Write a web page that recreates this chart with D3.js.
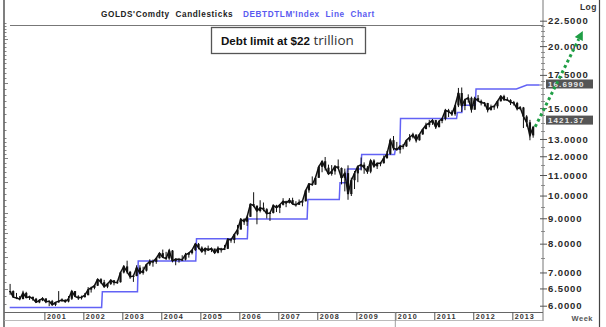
<!DOCTYPE html>
<html><head><meta charset="utf-8">
<script src="https://cdn.jsdelivr.net/npm/d3@7"></script>
<style>html,body{margin:0;padding:0;background:#fff;} svg{display:block;font-family:"Liberation Sans",Arial,sans-serif;}</style>
</head><body><svg id="c" width="606" height="327"></svg>
<script>
// ---------------- data ----------------
const titleLeft = "GOLDS'Comdty  Candlesticks";
const titleRight = "DEBTDTLM'Index  Line  Chart";
const noteBold = "Debt limit at $22";
const noteLight = " trillion";
const yearTicks = [2001,2002,2003,2004,2005,2006,2007,2008,2009,2010,2011,2012,2013];
const rightTicks = [6,6.5,7,8,9,10,11,12,13,15,17.5,20,22.5];
const rightDomain = [6, 22.5];
const goldAxisDomain = [256, 3560];   // hidden left axis (gold, log)
const goldStart = "2000-02";
const goldHigh = [
 313,295,288,280,294,291,281,278,275,272,277,
 273,268,270,265,293,274,272,280,294,293,282,281,
 288,304,305,310,328,330,325,316,327,323,324,349,
 372,388,353,341,372,372,367,376,393,392,400,417,
 430,421,430,428,396,398,408,417,420,430,455,457,
 443,436,446,438,433,443,437,449,477,477,497,540,
 575,574,588,654,730,645,678,664,630,608,652,650,
 655,691,675,692,694,672,683,679,747,794,845,840,
 933,976,1011,942,938,936,988,918,908,936,835,888,
 934,1006,962,930,981,990,960,965,1025,1070,1195,1227,
 1162,1128,1140,1180,1249,1265,1244,1250,1310,1388,1425,1432,
 1424,1411,1447,1577,1577,1557,1632,1913,1921,1730,1803,1765,
 1764,1791,1718,1680,1667,1640,1628,1693,1788,1796,1755,1724,
 1697,1682,1616,1605,1488,1425,1348];
const goldLow = [
 283,276,272,269,272,275,270,268,263,262,267,
 262,255,257,255,263,265,263,264,270,278,270,271,
 276,282,289,298,307,314,302,301,310,309,313,317,
 345,344,328,319,336,342,341,351,370,367,377,396,
 399,391,391,382,372,381,387,389,399,411,424,431,
 418,410,425,420,414,415,418,428,432,458,456,490,
 518,540,535,582,636,543,606,612,573,560,600,608,
 602,646,636,658,652,639,650,641,670,727,775,781,
 834,878,892,866,851,859,909,785,736,681,705,752,
 801,893,866,865,870,916,905,928,951,994,1031,1075,
 1075,1044,1086,1110,1165,1200,1155,1176,1240,1310,1330,1360,
 1310,1327,1381,1418,1462,1478,1480,1603,1532,1558,1671,1523,
 1564,1689,1628,1612,1526,1551,1563,1583,1687,1696,1705,1635,
 1626,1554,1563,1321,1338,1180,1208];
const goldClose = [
 293,277,275,272,288,276,278,273,264,269,274,
 265,267,258,264,267,270,266,273,293,279,275,277,
 282,297,302,308,327,318,305,313,324,317,318,348,
 368,350,334,337,364,346,354,375,385,384,397,416,
 400,396,426,387,394,392,392,410,416,428,453,438,
 422,435,428,434,417,435,429,433,473,470,495,517,
 569,556,582,654,645,614,633,624,599,603,646,632,
 650,672,661,679,655,650,664,672,743,789,783,834,
 923,972,916,864,885,928,913,833,871,718,816,869,
 927,942,916,883,979,927,954,955,1001,1040,1181,1096,
 1081,1118,1115,1180,1213,1244,1180,1246,1307,1357,1385,1421,
 1333,1410,1439,1556,1536,1502,1628,1825,1620,1717,1746,1565,
 1740,1697,1668,1664,1561,1604,1615,1692,1774,1719,1712,1675,
 1664,1579,1597,1470,1393,1234,1335];
const goldLastLabel = "1421.37";
const goldLastValue = 1421.37;
const debtDates = ["2000-02-11","2002-06-21","2002-06-28","2003-05-23","2003-05-30","2004-11-19","2004-11-26",
 "2006-03-17","2006-03-24","2007-09-28","2007-10-05","2008-07-25","2008-08-01","2008-10-03","2008-10-10",
 "2009-02-13","2009-02-20","2009-12-25","2010-01-01","2010-02-12","2010-02-19","2011-07-29","2011-08-05",
 "2011-09-16","2011-09-23","2012-01-20","2012-01-27","2013-02-08","2013-05-17","2013-09-13"];
const debtValues = [5.95,5.95,6.4,6.4,7.384,7.384,8.184,8.184,8.965,8.965,9.815,9.815,10.615,10.615,11.315,
 11.315,12.104,12.104,12.394,12.394,14.294,14.294,14.694,14.694,15.194,15.194,16.394,16.394,16.699,16.699];
const debtLastLabel = "16.6990";
const arrowTarget = {date: "2014-10-23", value: 21.45};

// ---------------- chart ----------------
const svg = d3.select("#c");
const parse = d3.timeParse("%Y-%m-%d");
const x = d3.scaleTime().domain([new Date(2000,0,1), new Date(2014,0,1)]).range([5.3, 551.3]);
const y = d3.scaleLog().domain(rightDomain).range([305.7, 20.7]);
const yg = d3.scaleLog().domain(goldAxisDomain).range([305.7, 20.7]);
const axisX = 543, plotL = 4, axisY = 312;

// frame
svg.append("line").attr("x1",plotL).attr("x2",plotL).attr("y1",0).attr("y2",327).attr("stroke","#555").attr("stroke-width",1.5);
svg.append("line").attr("x1",599.5).attr("x2",599.5).attr("y1",0).attr("y2",327).attr("stroke","#444").attr("stroke-width",1.2);
svg.append("line").attr("x1",axisX).attr("x2",axisX).attr("y1",0).attr("y2",321).attr("stroke","#777").attr("stroke-width",1);
svg.append("line").attr("x1",10).attr("x2",axisX).attr("y1",25.5).attr("y2",25.5).attr("stroke","#777").attr("stroke-width",1);

// titles
svg.append("text").attr("x",101).attr("y",17).attr("font-size",8.2).attr("font-weight","bold").attr("letter-spacing",0.6)
  .attr("fill","#222").attr("xml:space","preserve").text(titleLeft);
svg.append("text").attr("x",243).attr("y",17).attr("font-size",8.2).attr("font-weight","bold").attr("letter-spacing",0.6)
  .attr("fill","#5a5af0").attr("xml:space","preserve").text(titleRight);
svg.append("text").attr("x",597).attr("y",10).attr("text-anchor","end").attr("font-size",8.5).attr("font-weight","bold")
  .attr("letter-spacing",0.5).attr("fill","#333").text("Log");
svg.append("text").attr("x",593).attr("y",321).attr("text-anchor","end").attr("font-size",7.5).attr("font-weight","bold")
  .attr("letter-spacing",0.5).attr("fill","#555").text("Week");

// left (gold) ticks, unlabeled
const leftTicks = d3.range(260,600,20).concat(d3.range(600,1200,40)).concat(d3.range(1200,3600,100));
svg.append("g").selectAll("line").data(leftTicks).join("line")
  .attr("x1",plotL).attr("x2",d=> (d%100===0 && d<=1000) || d%1000===0 ? plotL+4 : plotL+2.5)
  .attr("y1",d=>Math.round(yg(d))+0.5).attr("y2",d=>Math.round(yg(d))+0.5).attr("stroke","#666").attr("stroke-width",0.8);

// right axis
const minor = d3.range(6,22.6,0.5).filter(v=>!rightTicks.includes(v));
svg.append("g").selectAll("line").data(minor).join("line")
  .attr("x1",axisX-2).attr("x2",axisX+2).attr("y1",d=>Math.round(y(d))+0.5).attr("y2",d=>Math.round(y(d))+0.5)
  .attr("stroke","#777").attr("stroke-width",0.8);
const rAxis = svg.append("g").attr("transform",`translate(${axisX},0)`)
  .call(d3.axisRight(y).tickValues(rightTicks).tickSize(4).tickFormat(d3.format(".4f")));
rAxis.select(".domain").remove();
rAxis.selectAll(".tick line").attr("x1",-3).attr("stroke","#555");
rAxis.selectAll(".tick text").attr("x",5).attr("font-size",9.5).attr("font-weight","bold").attr("letter-spacing",0.9)
  .attr("fill","#2a2a2a").attr("font-family","'Liberation Sans',Arial,sans-serif");

// x axis
svg.append("line").attr("x1",plotL).attr("x2",axisX).attr("y1",axisY+0.5).attr("y2",axisY+0.5).attr("stroke","#666").attr("stroke-width",1);
svg.append("line").attr("x1",plotL).attr("x2",axisX).attr("y1",320.5).attr("y2",320.5).attr("stroke","#aaa").attr("stroke-width",0.8);
const xAxis = svg.append("g").attr("transform",`translate(0,${axisY})`)
  .call(d3.axisBottom(x).tickValues(yearTicks.map(yr=>new Date(yr,0,1))).tickSize(8).tickFormat(d3.timeFormat("%Y")));
xAxis.select(".domain").remove();
xAxis.selectAll(".tick line").attr("stroke","#555");
xAxis.selectAll(".tick text").attr("text-anchor","start").attr("x",2).attr("y",2).attr("dy","0.71em")
  .attr("font-size",7.2).attr("font-weight","bold").attr("letter-spacing",1).attr("fill","#333")
  .attr("font-family","'Liberation Sans',Arial,sans-serif");
svg.append("line").attr("x1",x(new Date(2010,0,1))).attr("x2",x(new Date(2010,0,1))).attr("y1",axisY).attr("y2",327)
  .attr("stroke","#888").attr("stroke-width",0.8);

// debt line
const debt = debtDates.map((d,i)=>({date:parse(d), v:debtValues[i]}));
svg.append("path").datum(debt).attr("fill","none").attr("stroke","#6262f5").attr("stroke-width",1.5)
  .attr("d", d3.line().x(d=>x(d.date)).y(d=>y(d.v)));
const lastDebt = debt[debt.length-1];
svg.append("line").attr("x1",x(lastDebt.date)).attr("x2",x(lastDebt.date)+3).attr("y1",y(lastDebt.v)).attr("y2",y(lastDebt.v))
  .attr("stroke","#777").attr("stroke-width",1);

// gold candles
const start = d3.timeParse("%Y-%m")(goldStart);
const gold = goldClose.map((c,i)=>({date:d3.timeDay.offset(d3.timeMonth.offset(start,i),14), h:goldHigh[i], l:goldLow[i], c:c, o: i? goldClose[i-1]: c}));
const gG = svg.append("g");
gG.selectAll("line.w").data(gold).join("line").attr("class","w")
  .attr("x1",d=>x(d.date)).attr("x2",d=>x(d.date)).attr("y1",d=>yg(d.h)).attr("y2",d=>yg(d.l))
  .attr("stroke","#111").attr("stroke-width",1);
gG.selectAll("rect").data(gold).join("rect")
  .attr("x",d=>x(d.date)-1.1).attr("width",2.2)
  .attr("y",d=>yg(Math.max(d.o,d.c))).attr("height",d=>Math.max(1,Math.abs(yg(d.o)-yg(d.c))))
  .attr("fill","#111");
gG.append("path").datum(gold).attr("fill","none").attr("stroke","#111").attr("stroke-width",1.5)
  .attr("d", d3.line().x(d=>x(d.date)).y(d=>yg(d.c)));

// value boxes on right axis
function valBox(yy, label){
  const g = svg.append("g");
  g.append("rect").attr("x",axisX+3).attr("y",yy-4.5).attr("width",47).attr("height",9).attr("fill","#555");
  g.append("text").attr("x",axisX+5).attr("y",yy).attr("dy","0.35em").attr("font-size",8).attr("font-weight","bold")
    .attr("letter-spacing",1.1).attr("fill","#e8e8e8").text(label);
}
valBox(y(lastDebt.v)-1, debtLastLabel);
valBox(yg(goldLastValue), goldLastLabel);

// green dotted arrow
const lastGold = gold[gold.length-1];
const p0 = [x(lastGold.date)+2, yg(lastGold.c)];
const p1 = [x(parse(arrowTarget.date)), y(arrowTarget.value)];
const ang = Math.atan2(p1[1]-p0[1], p1[0]-p0[0]);
const L = 9, W = 4.5;
const base = [p1[0]-L*Math.cos(ang), p1[1]-L*Math.sin(ang)];
svg.append("line").attr("x1",p0[0]).attr("y1",p0[1]).attr("x2",base[0]).attr("y2",base[1])
  .attr("stroke","#1f9e45").attr("stroke-width",3).attr("stroke-dasharray","3,3");
svg.append("polygon").attr("points",[p1,
  [base[0]+W*Math.sin(ang), base[1]-W*Math.cos(ang)],
  [base[0]-W*Math.sin(ang), base[1]+W*Math.cos(ang)]].map(p=>p.join(",")).join(" ")).attr("fill","#1f9e45");

// annotation box
const nb = svg.append("g");
nb.append("rect").attr("x",211.5).attr("y",27.5).attr("width",154).attr("height",26).attr("fill","#fff")
  .attr("stroke","#555").attr("stroke-width",1.3);
const nt = nb.append("text").attr("x",221).attr("y",45).attr("fill","#111");
nt.append("tspan").attr("font-size",11.6).attr("font-weight","bold").text(noteBold);
nt.append("tspan").attr("font-size",13.5).attr("fill","#333").attr("font-family","'Open Sans',sans-serif").attr("xml:space","preserve").text(noteLight);
</script></body></html>
